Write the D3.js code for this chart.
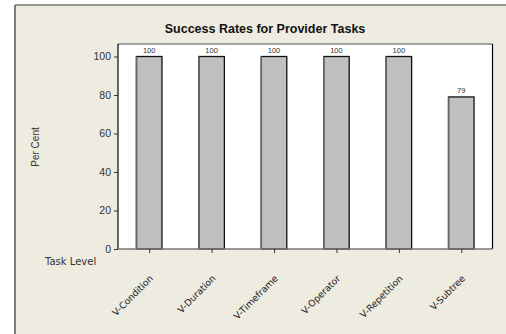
<!DOCTYPE html>
<html><head><meta charset="utf-8">
<script src="https://cdn.jsdelivr.net/npm/d3@7"></script>
<style>html,body{margin:0;padding:0;background:#fff;}svg{display:block;}</style>
</head><body>
<script>
const categories = ["V-Condition","V-Duration","V-Timeframe","V-Operator","V-Repetition","V-Subtree"];
const values = [100,100,100,100,100,79];
const yTicks = [0,20,40,60,80,100];
const title = "Success Rates for Provider Tasks";
const yLabel = "Per Cent";
const xLabel = "Task Level";

const W = 506, H = 334;
const svg = d3.select("body").append("svg").attr("width", W).attr("height", H);
const font = "Arial, 'Liberation Sans', sans-serif";
const font2 = "'DejaVu Sans', Verdana, sans-serif";

// frame
svg.append("rect").attr("x",15).attr("y",5).attr("width",W).attr("height",H).attr("fill","#eeebe1");
svg.append("line").attr("x1",15).attr("x2",15).attr("y1",5).attr("y2",H).attr("stroke","#555").attr("stroke-width",1.5);
svg.append("line").attr("x1",15).attr("x2",W).attr("y1",5).attr("y2",5).attr("stroke","#777").attr("stroke-width",1.5);

const L = 118, R = 492.5, T = 44, B = 249;
const x = d3.scalePoint().domain(categories).range([L, R]).padding(0.5);
const y = d3.scaleLinear().domain([0, 106.5]).range([B, T]);
const bw = 25.5;

svg.append("rect").attr("x",L).attr("y",T).attr("width",R-L).attr("height",B-T).attr("fill","#fff");
svg.append("line").attr("x1",L).attr("x2",R).attr("y1",T).attr("y2",T).attr("stroke","#888").attr("stroke-width",1.5);
svg.append("line").attr("x1",R).attr("x2",R).attr("y1",T).attr("y2",B).attr("stroke","#000").attr("stroke-width",1.2);

// bars
const g = svg.append("g");
g.selectAll("rect.bar").data(values).join("rect")
  .attr("x",(d,i)=>x(categories[i])-bw/2).attr("y",d=>y(d))
  .attr("width",bw).attr("height",d=>B-y(d))
  .attr("fill","#c0c0c0").attr("stroke","#111").attr("stroke-width",1.3);
g.selectAll("line.lft").data(values).join("line")
  .attr("x1",(d,i)=>x(categories[i])-bw/2).attr("x2",(d,i)=>x(categories[i])-bw/2)
  .attr("y1",d=>y(d)).attr("y2",B).attr("stroke","#666").attr("stroke-width",1.5);
g.selectAll("text.val").data(values).join("text")
  .attr("x",(d,i)=>x(categories[i])).attr("y",d=>y(d)-4)
  .attr("text-anchor","middle").attr("font-family",font).attr("font-size",7.5)
  .attr("fill","#333").text(d=>d);

// y axis
const ya = svg.append("g").attr("transform",`translate(${L},0)`)
  .call(d3.axisLeft(y).tickValues(yTicks).tickSize(4).tickPadding(3));
ya.attr("font-family",font);
ya.select(".domain").attr("stroke","#000").attr("stroke-width",1.2).attr("d",`M0,${T}V${B}`);
ya.selectAll(".tick line").attr("stroke","#333");
ya.selectAll(".tick text").attr("font-family",font).attr("font-size",10.5).attr("fill","#333");

// x axis
const xa = svg.append("g").attr("transform",`translate(0,${B})`)
  .call(d3.axisBottom(x).tickSize(4).tickPadding(4));
xa.attr("font-family",font2);
xa.select(".domain").attr("stroke","#777").attr("stroke-width",1.5).attr("d",`M${L},0H${R}`);
xa.selectAll(".tick line").attr("stroke","#333");
xa.selectAll(".tick text").attr("font-family",font2).attr("font-size",9.2).attr("fill","#222")
  .attr("text-anchor","end").attr("dy","0").attr("y",0)
  .attr("transform","translate(4,30) rotate(-45)");

// labels
svg.append("text").attr("x",265).attr("y",33).attr("text-anchor","middle")
  .attr("font-family",font).attr("font-weight","bold").attr("font-size",12.5).attr("fill","#111").text(title);
svg.append("text").attr("transform","translate(39,147) rotate(-90)").attr("text-anchor","middle")
  .attr("font-family",font).attr("font-size",10).attr("fill","#333").text(yLabel);
svg.append("text").attr("x",45).attr("y",265)
  .attr("font-family",font2).attr("font-size",10).attr("fill","#333").text(xLabel);
</script>
</body></html>
